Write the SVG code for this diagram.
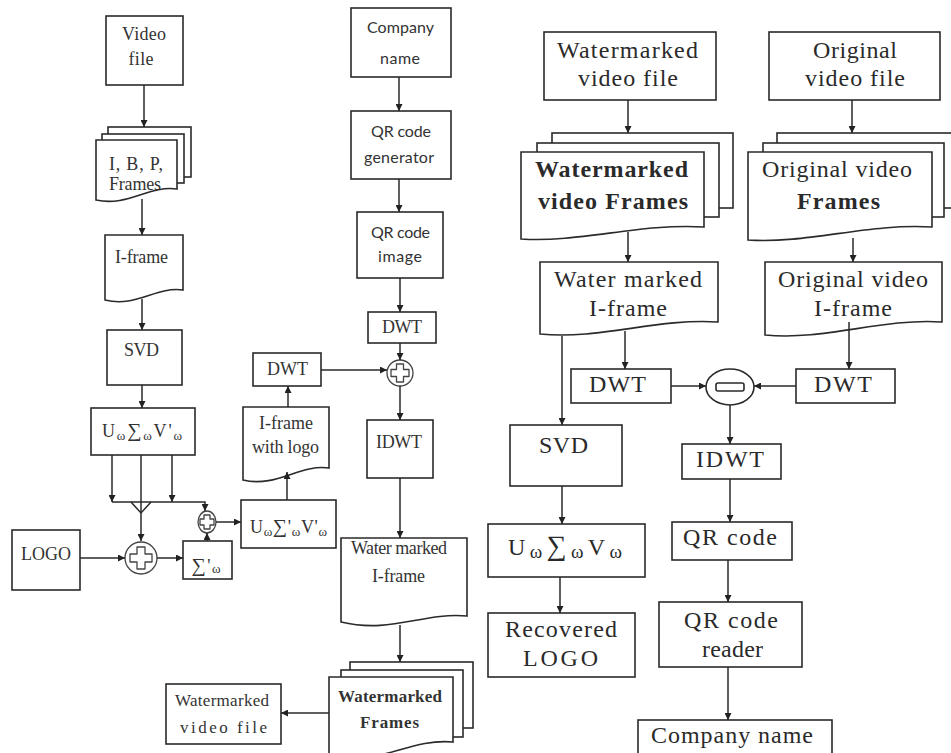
<svg xmlns="http://www.w3.org/2000/svg" width="951" height="753" viewBox="0 0 951 753">
<defs>
<style>
.b{fill:#fff;stroke:#2a2a2a;stroke-width:1.6}
.c{fill:none;stroke:#2a2a2a;stroke-width:1.5}
.op{fill:#fff;stroke:#444;stroke-width:1.3;stroke-linejoin:round}
.s{font-family:"Liberation Serif","Times New Roman",serif;font-size:18px;fill:#333;text-anchor:middle}
.m{font-family:"Liberation Serif","Times New Roman",serif;font-size:17px;fill:#333;text-anchor:middle}
.r{font-family:"Liberation Serif","Times New Roman",serif;font-size:24px;fill:#2a2a2a;text-anchor:middle}
.k{font-family:Lato,"Open Sans","Liberation Sans",sans-serif;font-size:16px;fill:#333;text-anchor:middle}
.bd{font-weight:bold}
</style>
<marker id="ah" viewBox="0 0 10 10" refX="10" refY="5" markerWidth="7" markerHeight="7" orient="auto" markerUnits="userSpaceOnUse">
<path d="M0,0 L10,5 L0,10 Z" fill="#222"/>
</marker>
</defs>
<rect x="0" y="0" width="951" height="753" fill="#fff"/>

<!-- Left column -->
<g id="video-file">
<rect class="b" x="106" y="16" width="77" height="69"/>
<text class="s" x="144" y="40" textLength="44">Video</text>
<text class="s" x="141" y="65" textLength="25">file</text>
</g>
<g id="ibp-frames">
<rect class="b" x="108" y="127" width="83" height="50"/>
<rect class="b" x="102" y="134" width="82" height="49"/>
<path class="b" d="M96,140 H177 V189 C149,185 128,207 96,200 Z"/>
<text class="s" x="136" y="170" textLength="54" font-size="16">I, B, P,</text>
<text class="s" x="135" y="190" textLength="52" font-size="16">Frames</text>
</g>
<g id="i-frame">
<path class="b" d="M105,235 H183 V290 C156,286 136,308 105,300 Z"/>
<text class="s" x="141.5" y="263" textLength="53">I-frame</text>
</g>
<g id="svd-left">
<rect class="b" x="107" y="330" width="75" height="55"/>
<text class="s" x="141.5" y="356" textLength="35">SVD</text>
</g>
<g id="usv-left">
<rect class="b" x="91" y="408" width="104" height="47"/>
<text class="s" x="142" y="437" textLength="80" font-size="18">U<tspan dy="3" font-size="13">ω</tspan><tspan dy="-3" font-size="20">∑</tspan><tspan dy="3" font-size="13">ω</tspan><tspan dy="-3">V'</tspan><tspan dy="3" font-size="13">ω</tspan></text>
</g>
<g id="logo">
<rect class="b" x="12" y="530" width="68" height="60"/>
<text class="s" x="46" y="560" textLength="50">LOGO</text>
</g>
<g id="sum-big">
<circle class="op" cx="141" cy="558" r="16"/>
<path class="op" d="M137,547 H145 V554 H152 V562 H145 V569 H137 V562 H130 V554 H137 Z"/>
</g>
<g id="sigma-prime">
<rect class="b" x="183" y="541" width="49" height="38"/>
<text class="s" x="206" y="572" textLength="29"><tspan font-size="20">∑</tspan>'<tspan dy="1" font-size="13">ω</tspan></text>
</g>
<g id="sum-small">
<ellipse class="op" cx="207" cy="522" rx="9" ry="11"/>
<path class="op" d="M204,515 H210 V519 H214 V525 H210 V529 H204 V525 H200 V519 H204 Z"/>
</g>
<g id="usv-prime">
<rect class="b" x="241" y="500" width="95" height="48"/>
<text class="s" x="288.5" y="533" textLength="77" font-size="18">U<tspan dy="3" font-size="13">ω</tspan><tspan dy="-3" font-size="20">∑</tspan>'<tspan dy="3" font-size="13">ω</tspan><tspan dy="-3">V'</tspan><tspan dy="3" font-size="13">ω</tspan></text>
</g>
<g id="i-frame-logo">
<path class="b" d="M243,407 H329 V468 C299,464 277,488 243,480 Z"/>
<text class="s" x="286" y="429" textLength="54">I-frame</text>
<text class="s" x="285.5" y="453" textLength="67">with logo</text>
</g>
<g id="dwt-logo">
<rect class="b" x="253" y="353" width="68" height="33"/>
<text class="s" x="287.5" y="375" textLength="41">DWT</text>
</g>

<!-- Middle column -->
<g id="company-name-in">
<rect class="b" x="351" y="8" width="100" height="69"/>
<text class="k" x="400.5" y="33" textLength="67">Company</text>
<text class="k" x="400" y="64" textLength="40">name</text>
</g>
<g id="qr-generator">
<rect class="b" x="351" y="111" width="100" height="68"/>
<text class="k" x="401" y="137" textLength="60">QR code</text>
<text class="k" x="399" y="163" textLength="70">generator</text>
</g>
<g id="qr-image">
<rect class="b" x="357" y="212" width="86" height="66"/>
<text class="k" x="400.5" y="238" textLength="59">QR code</text>
<text class="k" x="400" y="262" textLength="44">image</text>
</g>
<g id="dwt-qr">
<rect class="b" x="368" y="312" width="68" height="31"/>
<text class="s" x="402" y="333" textLength="40">DWT</text>
</g>
<g id="sum-mid">
<circle class="op" cx="400" cy="373" r="13"/>
<path class="op" d="M396.5,364 H403.5 V369.5 H409 V376.5 H403.5 V382 H396.5 V376.5 H391 V369.5 H396.5 Z"/>
</g>
<g id="idwt-mid">
<rect class="b" x="367" y="420" width="66" height="58"/>
<text class="s" x="399" y="448" textLength="46">IDWT</text>
</g>
<g id="wm-i-frame">
<path class="b" d="M341,538 H467 V616 C423,612 391,634 341,622 Z"/>
<text class="s" x="399" y="554" textLength="96">Water marked</text>
<text class="s" x="398.5" y="582" textLength="53">I-frame</text>
</g>
<g id="wm-frames">
<rect class="b" x="350" y="662" width="123" height="66"/>
<rect class="b" x="341" y="670" width="122" height="67"/>
<path class="b" d="M329,677 H453 V742 C410,738 379,766 329,758 Z"/>
<text class="m bd" x="390" y="702" textLength="104">Watermarked</text>
<text class="m bd" x="389.5" y="728" textLength="59">Frames</text>
</g>
<g id="wm-video-out">
<rect class="b" x="166" y="684" width="115" height="60"/>
<text class="m" x="222" y="706" textLength="94">Watermarked</text>
<text class="m" x="223.5" y="733" textLength="87">video file</text>
</g>

<!-- Right side -->
<g id="wm-video-in">
<rect class="b" x="544" y="32" width="172" height="68"/>
<text class="r" x="627.5" y="58" textLength="141">Watermarked</text>
<text class="r" x="628" y="86" textLength="100">video file</text>
</g>
<g id="wm-video-frames">
<rect class="b" x="552" y="133" width="181" height="75"/>
<rect class="b" x="537" y="143" width="182" height="74"/>
<path class="b" d="M521,152 H704 V227 C640,223 580,243 521,239 Z"/>
<text class="r bd" x="611.5" y="177" textLength="153">Watermarked</text>
<text class="r bd" x="613" y="209" textLength="150">video Frames</text>
</g>
<g id="wm-i-frame-r">
<path class="b" d="M540,262 H718 V322 C656,318 600,340 540,334 Z"/>
<text class="r" x="628" y="287" textLength="148">Water marked</text>
<text class="r" x="628" y="316" textLength="78">I-frame</text>
</g>
<g id="orig-video">
<rect class="b" x="769" y="32" width="171" height="68"/>
<text class="r" x="855" y="58" textLength="84">Original</text>
<text class="r" x="855" y="86" textLength="100">video file</text>
</g>
<g id="orig-frames">
<rect class="b" x="777" y="133" width="190" height="75"/>
<rect class="b" x="763" y="143" width="181" height="74"/>
<path class="b" d="M748,152 H932 V227 C868,223 808,244 748,240 Z"/>
<text class="r" x="837" y="177" textLength="150">Original video</text>
<text class="r bd" x="838.5" y="209" textLength="83">Frames</text>
</g>
<g id="orig-i-frame">
<path class="b" d="M765,262 H942 V322 C880,318 825,341 765,335 Z"/>
<text class="r" x="853" y="287" textLength="150">Original video</text>
<text class="r" x="853" y="316" textLength="78">I-frame</text>
</g>
<g id="dwt-wm">
<rect class="b" x="571" y="369" width="100" height="34"/>
<text class="r" x="617.5" y="392" textLength="57">DWT</text>
</g>
<g id="dwt-orig">
<rect class="b" x="796" y="369" width="99" height="34"/>
<text class="r" x="843" y="392" textLength="58">DWT</text>
</g>
<g id="subtract">
<ellipse class="op" cx="730" cy="387" rx="24" ry="18" style="stroke:#2a2a2a;stroke-width:1.6"/>
<rect class="op" x="716" y="383" width="28" height="8" rx="2" style="stroke:#2a2a2a;stroke-width:1.6"/>
</g>
<g id="svd-right">
<rect class="b" x="510" y="425" width="112" height="61"/>
<text class="r" x="563.5" y="453" textLength="49">SVD</text>
</g>
<g id="idwt-right">
<rect class="b" x="682" y="444" width="99" height="35"/>
<text class="r" x="730" y="467" textLength="68">IDWT</text>
</g>
<g id="usv-right">
<rect class="b" x="488" y="524" width="157" height="53"/>
<text class="r" x="565" y="555" textLength="114" font-size="25">U<tspan dy="3" font-size="19">ω</tspan><tspan dy="-3" font-size="28">∑</tspan><tspan dy="3" font-size="19">ω</tspan><tspan dy="-3">V</tspan><tspan dy="3" font-size="19">ω</tspan></text>
</g>
<g id="recovered-logo">
<rect class="b" x="488" y="613" width="147" height="64"/>
<text class="r" x="561" y="637" textLength="112">Recovered</text>
<text class="r" x="560.5" y="666" textLength="75">LOGO</text>
</g>
<g id="qr-code">
<rect class="b" x="672" y="522" width="120" height="38"/>
<text class="r" x="730" y="545" textLength="94">QR code</text>
</g>
<g id="qr-reader">
<rect class="b" x="659" y="602" width="143" height="65"/>
<text class="r" x="731" y="628" textLength="94">QR code</text>
<text class="r" x="732.5" y="657" textLength="61">reader</text>
</g>
<g id="company-name-out">
<rect class="b" x="638" y="720" width="194" height="45"/>
<text class="r" x="732" y="743" textLength="162">Company name</text>
</g>

<g id="connectors" class="c">
<path d="M144,85 V127" marker-end="url(#ah)"/>
<path d="M142,199 V235" marker-end="url(#ah)"/>
<path d="M142,299 V330" marker-end="url(#ah)"/>
<path d="M142,385 V408" marker-end="url(#ah)"/>
<path d="M112,455 V502" marker-end="url(#ah)"/>
<path d="M172,455 V502" marker-end="url(#ah)"/>
<path d="M141,455 V541" marker-end="url(#ah)"/>
<path d="M112,502 H205 V511" marker-end="url(#ah)"/>
<path d="M131,502 L141,513 L151,502"/>
<path d="M80,558 H125" marker-end="url(#ah)"/>
<path d="M157,558 H183" marker-end="url(#ah)"/>
<path d="M207,541 V533" marker-end="url(#ah)"/>
<path d="M216,522 H241" marker-end="url(#ah)"/>
<path d="M287,500 V472" marker-end="url(#ah)"/>
<path d="M288,407 V386" marker-end="url(#ah)"/>
<path d="M321,370 H387" marker-end="url(#ah)"/>
<path d="M399,77 V111" marker-end="url(#ah)"/>
<path d="M399,179 V212" marker-end="url(#ah)"/>
<path d="M400,278 V312" marker-end="url(#ah)"/>
<path d="M400,343 V360" marker-end="url(#ah)"/>
<path d="M400,386 V420" marker-end="url(#ah)"/>
<path d="M400,478 V538" marker-end="url(#ah)"/>
<path d="M400,625 V662" marker-end="url(#ah)"/>
<path d="M329,713 H281" marker-end="url(#ah)"/>
<path d="M628,100 V133" marker-end="url(#ah)"/>
<path d="M628,232 V262" marker-end="url(#ah)"/>
<path d="M852,100 V133" marker-end="url(#ah)"/>
<path d="M853,238 V262" marker-end="url(#ah)"/>
<path d="M562,336 V425" marker-end="url(#ah)"/>
<path d="M625,331 V369" marker-end="url(#ah)"/>
<path d="M849,322 V369" marker-end="url(#ah)"/>
<path d="M671,386 H706" marker-end="url(#ah)"/>
<path d="M796,386 H754" marker-end="url(#ah)"/>
<path d="M730,405 V444" marker-end="url(#ah)"/>
<path d="M562,486 V524" marker-end="url(#ah)"/>
<path d="M560,577 V613" marker-end="url(#ah)"/>
<path d="M730,479 V522" marker-end="url(#ah)"/>
<path d="M728,560 V602" marker-end="url(#ah)"/>
<path d="M728,667 V720" marker-end="url(#ah)"/>
</g>
</svg>
